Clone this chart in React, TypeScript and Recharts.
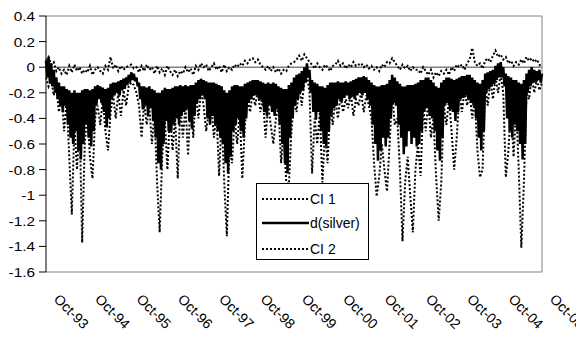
import React from "react";
import { LineChart, Line, XAxis, YAxis, ReferenceLine, Legend } from "recharts";

// Time runs from Oct-93 (0) to Oct-05 (384): d(silver) has 32 samples per year,
// the confidence bounds 16 samples per year (every second position).
const xTickPos = [0, 32, 64, 96, 128, 160, 192, 224, 256, 288, 320, 352, 384];
const xTickLabels = [
  "Oct-93", "Oct-94", "Oct-95", "Oct-96", "Oct-97", "Oct-98", "Oct-99",
  "Oct-00", "Oct-01", "Oct-02", "Oct-03", "Oct-04", "Oct-05",
];

const yTicks = [0.4, 0.2, 0, -0.2, -0.4, -0.6, -0.8, -1, -1.2, -1.4, -1.6];
const yTickLabels = ["0.4", "0.2", "0", "-0.2", "-0.4", "-0.6", "-0.8", "-1", "-1.2", "-1.4", "-1.6"];

const seriesNames = ["CI 1", "d(silver)", "CI 2"];

// Upper confidence bound (16 per year)
const ci1 = [
  0.05, 0.08, 0.02, 0.04, -0.03, 0.0, -0.05, -0.02, -0.06, 0.01, -0.04, 0.02, -0.03, 0.0, -0.05, -0.02,
  -0.04, 0.01, -0.06, -0.02, 0.0, -0.03, -0.05, 0.01, -0.02, 0.08, -0.01, 0.02, -0.03, 0.01, -0.02, 0.0,
  0.01, 0.02, -0.01, 0.0, -0.04, 0.01, -0.03, 0.02, -0.02, 0.0, -0.05, 0.01, -0.04, -0.01, -0.06, 0.01,
  -0.03, -0.06, -0.02, -0.07, -0.03, -0.05, 0.0, -0.04, -0.01, -0.06, 0.01, -0.02, 0.03, 0.0, 0.02, -0.03,
  0.0, 0.03, -0.02, 0.01, -0.04, 0.02, -0.03, 0.0, -0.02, 0.02, 0.0, 0.03, 0.01, 0.05, 0.03, 0.06,
  0.07, 0.04, 0.06, 0.02, 0.0, -0.02, 0.01, -0.03, 0.0, -0.04, -0.01, -0.05, -0.02, -0.03, 0.01, 0.03,
  0.04, 0.06, 0.09, 0.05, 0.1, 0.07, 0.04, 0.02, -0.01, 0.03, 0.0, -0.02, 0.02, 0.0, -0.03, 0.01,
  0.02, 0.05, 0.01, 0.03, -0.01, 0.02, 0.0, 0.04, 0.01, 0.02, 0.03, 0.0, 0.02, -0.01, 0.01, -0.02,
  0.0, -0.03, 0.02, 0.0, 0.04, 0.03, 0.07, 0.04, 0.01, -0.02, 0.02, -0.01, 0.01, -0.03, 0.0, -0.02,
  -0.02, -0.05, 0.0, -0.03, -0.06, -0.02, -0.08, -0.04, -0.07, -0.03, -0.05, -0.02, -0.06, 0.0, -0.03, 0.02,
  0.0, 0.02, -0.02, 0.03, 0.06, 0.15, 0.04, 0.01, 0.03, -0.01, 0.05, 0.07, 0.04, 0.09, 0.13, 0.08,
  0.1, 0.06, 0.08, 0.03, 0.05, 0.01, 0.04, 0.02, 0.06, 0.03, 0.08, 0.05, 0.07, 0.04, 0.06, 0.02, 0.0,
];

// Lower confidence bound (16 per year)
const ci2 = [
  -0.08, -0.15, -0.1, -0.22, -0.15, -0.35, -0.2, -0.5, -0.25, -0.7, -1.15, -0.45, -0.8, -0.4, -1.37, -0.6,
  -0.35, -0.7, -0.87, -0.4, -0.3, -0.45, -0.25, -0.5, -0.65, -0.35, -0.22, -0.4, -0.2, -0.38, -0.18, -0.3,
  -0.15, -0.12, -0.14, -0.2, -0.3, -0.55, -0.28, -0.45, -0.3, -0.6, -0.35, -0.9, -1.29, -0.7, -0.4, -0.8,
  -0.35, -0.65, -0.4, -0.87, -0.3, -0.55, -0.3, -0.69, -0.25, -0.55, -0.2, -0.4, -0.18, -0.3, -0.5, -0.35,
  -0.3, -0.55, -0.35, -0.85, -0.4, -0.9, -1.32, -0.6, -0.75, -0.4, -0.6, -0.35, -0.87, -0.45, -0.25, -0.35,
  -0.2, -0.3, -0.18, -0.35, -0.25, -0.55, -0.3, -0.45, -0.6, -0.4, -0.3, -0.75, -0.5, -0.9, -0.93, -0.5,
  -0.25, -0.35, -0.15, -0.3, -0.12, -0.05, -0.2, -0.83, -0.4, -0.6, -0.35, -0.9, -0.5, -0.75, -0.3, -0.45,
  -0.25, -0.4, -0.22, -0.35, -0.25, -0.32, -0.2, -0.38, -0.25, -0.3, -0.2, -0.35, -0.22, -0.3, -0.4, -0.75,
  -1.01, -0.85, -0.6, -0.8, -0.97, -0.6, -0.2, -0.45, -0.4, -0.8, -1.36, -0.9, -0.7, -1.0, -1.29, -0.8,
  -0.6, -0.85, -0.3, -0.5, -0.25, -0.55, -0.4, -0.85, -1.2, -0.9, -0.3, -0.45, -0.25, -0.5, -0.8, -0.55,
  -0.2, -0.35, -0.18, -0.3, -0.2, -0.4, -0.25, -0.65, -0.86, -0.8, -0.15, -0.3, -0.1, -0.25, -0.08, -0.2,
  -0.05, -0.2, -0.86, -0.65, -0.3, -0.7, -0.3, -0.8, -1.41, -0.9, -0.2, -0.25, -0.08, -0.2, -0.1, -0.18, -0.12,
];

// d(silver), 32 per year: the series swings between its daily highs and lows
const dSilver = [
  0.05, -0.08, 0.08, -0.12, 0.03, -0.15, -0.02, -0.2, -0.08, -0.25, -0.12, -0.3, -0.15, -0.35, -0.15, -0.3,
  -0.17, -0.45, -0.18, -0.55, -0.2, -0.6, -0.18, -0.5, -0.2, -0.65, -0.2, -0.72, -0.18, -0.6, -0.17, -0.45,
  -0.17, -0.55, -0.18, -0.62, -0.17, -0.5, -0.15, -0.3, -0.14, -0.25, -0.15, -0.28, -0.16, -0.35, -0.17, -0.47,
  -0.16, -0.4, -0.13, -0.25, -0.12, -0.22, -0.12, -0.2, -0.11, -0.22, -0.1, -0.18, -0.09, -0.17, -0.08, -0.14,
  -0.06, -0.12, -0.04, -0.1, -0.05, -0.11, -0.08, -0.15, -0.12, -0.25, -0.15, -0.33, -0.15, -0.3, -0.16, -0.38,
  -0.15, -0.32, -0.17, -0.42, -0.18, -0.55, -0.2, -0.75, -0.2, -0.8, -0.18, -0.6, -0.16, -0.42, -0.17, -0.5,
  -0.17, -0.5, -0.16, -0.45, -0.15, -0.4, -0.15, -0.45, -0.14, -0.38, -0.15, -0.35, -0.14, -0.33, -0.15, -0.42,
  -0.14, -0.48, -0.14, -0.38, -0.12, -0.28, -0.1, -0.25, -0.09, -0.22, -0.1, -0.25, -0.11, -0.4, -0.12, -0.45,
  -0.12, -0.38, -0.12, -0.45, -0.13, -0.5, -0.14, -0.55, -0.15, -0.6, -0.18, -0.75, -0.2, -0.83, -0.18, -0.7,
  -0.15, -0.5, -0.14, -0.45, -0.14, -0.4, -0.15, -0.5, -0.15, -0.55, -0.13, -0.4, -0.12, -0.28, -0.11, -0.25,
  -0.1, -0.22, -0.1, -0.22, -0.1, -0.25, -0.11, -0.27, -0.12, -0.35, -0.13, -0.38, -0.12, -0.3, -0.13, -0.35,
  -0.12, -0.38, -0.13, -0.33, -0.15, -0.45, -0.16, -0.6, -0.17, -0.75, -0.17, -0.83, -0.14, -0.55, -0.12, -0.4,
  -0.08, -0.3, -0.06, -0.25, -0.05, -0.2, -0.03, -0.18, 0.0, -0.12, 0.03, -0.08, -0.02, -0.2, -0.1, -0.35,
  -0.12, -0.41, -0.13, -0.35, -0.15, -0.5, -0.15, -0.6, -0.16, -0.62, -0.14, -0.5, -0.12, -0.38, -0.12, -0.32,
  -0.12, -0.3, -0.11, -0.25, -0.12, -0.27, -0.12, -0.24, -0.11, -0.22, -0.12, -0.25, -0.11, -0.23, -0.1, -0.25,
  -0.09, -0.22, -0.08, -0.2, -0.08, -0.22, -0.07, -0.2, -0.08, -0.25, -0.1, -0.3, -0.12, -0.45, -0.14, -0.6,
  -0.15, -0.73, -0.15, -0.65, -0.14, -0.55, -0.14, -0.62, -0.13, -0.55, -0.1, -0.4, -0.06, -0.28, -0.08, -0.3,
  -0.11, -0.45, -0.13, -0.55, -0.15, -0.68, -0.15, -0.62, -0.14, -0.5, -0.14, -0.6, -0.14, -0.55, -0.13, -0.62,
  -0.12, -0.6, -0.1, -0.5, -0.1, -0.35, -0.08, -0.32, -0.08, -0.38, -0.1, -0.4, -0.12, -0.5, -0.15, -0.65,
  -0.16, -0.73, -0.12, -0.55, -0.1, -0.3, -0.08, -0.28, -0.08, -0.33, -0.09, -0.35, -0.1, -0.42, -0.09, -0.35,
  -0.08, -0.25, -0.07, -0.24, -0.07, -0.22, -0.06, -0.25, -0.06, -0.28, -0.08, -0.3, -0.1, -0.4, -0.12, -0.55,
  -0.13, -0.65, -0.1, -0.5, -0.05, -0.2, -0.04, -0.17, -0.03, -0.15, -0.02, -0.13, 0.01, -0.1, 0.03, -0.08,
  0.04, -0.08, 0.0, -0.15, -0.05, -0.4, -0.07, -0.5, -0.08, -0.55, -0.1, -0.45, -0.1, -0.5, -0.12, -0.6,
  -0.13, -0.72, -0.1, -0.6, -0.05, -0.2, -0.02, -0.15, 0.0, -0.12, -0.02, -0.12, -0.03, -0.1, -0.02, -0.12,
  -0.05,
];

const dRows = dSilver.map((v, j) => ({ t: j, d: v }));
const ci1Rows = ci1.map((v, i) => ({ t: i * 2, ci1: v }));
const ci2Rows = ci2.map((v, i) => ({ t: i * 2, ci2: v }));

const FONT = "'Liberation Sans', Arial, sans-serif";
const GRID = "#808080";

const XTick = (props: any) => {
  const { x, y, payload } = props;
  const k = xTickPos.indexOf(payload.value);
  return (
    <g transform={`translate(${x + 7},${y + 20}) rotate(45)`}>
      <text x={0} y={0} textAnchor="start" fontSize={14} fontFamily={FONT} fill="#000">
        {xTickLabels[k]}
      </text>
    </g>
  );
};

const YTick = (props: any) => {
  const { y, payload } = props;
  const k = yTicks.findIndex((t) => Math.abs(t - payload.value) < 1e-9);
  return (
    <g transform={`translate(35,${y + 5}) scale(1.18,1)`}>
      <text x={0} y={0} textAnchor="end" fontSize={13} fontFamily={FONT} fill="#000">
        {yTickLabels[k]}
      </text>
    </g>
  );
};

const LegendBox = () => (
  <svg width={114} height={78} style={{ display: "block" }}>
    <rect x={0.5} y={0.5} width={112} height={76} fill="#fff" stroke="#000" strokeWidth={1} />
    {seriesNames.map((name, idx) => {
      const cy = [16, 40, 66][idx];
      const solid = name === "d(silver)";
      return (
        <g key={name}>
          <line
            x1={6}
            x2={53}
            y1={cy}
            y2={cy}
            stroke="#000"
            strokeWidth={solid ? 2.5 : 2}
            strokeDasharray={solid ? undefined : "2 2"}
          />
          <text x={54} y={cy + 5} fontSize={14} fontFamily={FONT} fill="#000">
            {name}
          </text>
        </g>
      );
    })}
  </svg>
);

export default function App() {
  return (
    <div style={{ position: "absolute", left: 0, top: 0, width: 576, height: 343, background: "#fff" }}>
      <LineChart width={576} height={343} margin={{ top: 16, right: 34, bottom: 0, left: 0 }}>
        <XAxis
          dataKey="t"
          type="number"
          domain={[0, 384]}
          ticks={xTickPos}
          interval={0}
          tick={<XTick />}
          tickLine={false}
          axisLine={{ stroke: GRID }}
          height={71}
          allowDuplicatedCategory={false}
        />
        <YAxis
          type="number"
          domain={[-1.6, 0.4]}
          ticks={yTicks}
          interval={0}
          tick={<YTick />}
          tickSize={7}
          tickLine={{ stroke: "#000" }}
          axisLine={{ stroke: "#000" }}
          width={46}
        />
        <ReferenceLine y={0.4} stroke={GRID} />
        <ReferenceLine x={384} stroke={GRID} />
        <ReferenceLine y={0} stroke={GRID} strokeWidth={1.5} />
        <Line
          name={seriesNames[0]}
          data={ci1Rows}
          dataKey="ci1"
          stroke="#000"
          strokeWidth={2}
          strokeDasharray="2 2"
          dot={false}
          isAnimationActive={false}
        />
        <Line
          name={seriesNames[1]}
          data={dRows}
          dataKey="d"
          stroke="#000"
          strokeWidth={2.5}
          dot={false}
          isAnimationActive={false}
        />
        <Line
          name={seriesNames[2]}
          data={ci2Rows}
          dataKey="ci2"
          stroke="#000"
          strokeWidth={2}
          strokeDasharray="2 2"
          dot={false}
          isAnimationActive={false}
        />
        <Legend
          layout="horizontal"
          verticalAlign="middle"
          align="center"
          content={<LegendBox />}
          wrapperStyle={{ position: "absolute", left: 256, top: 183, width: 114, height: 78 }}
        />
      </LineChart>
    </div>
  );
}
